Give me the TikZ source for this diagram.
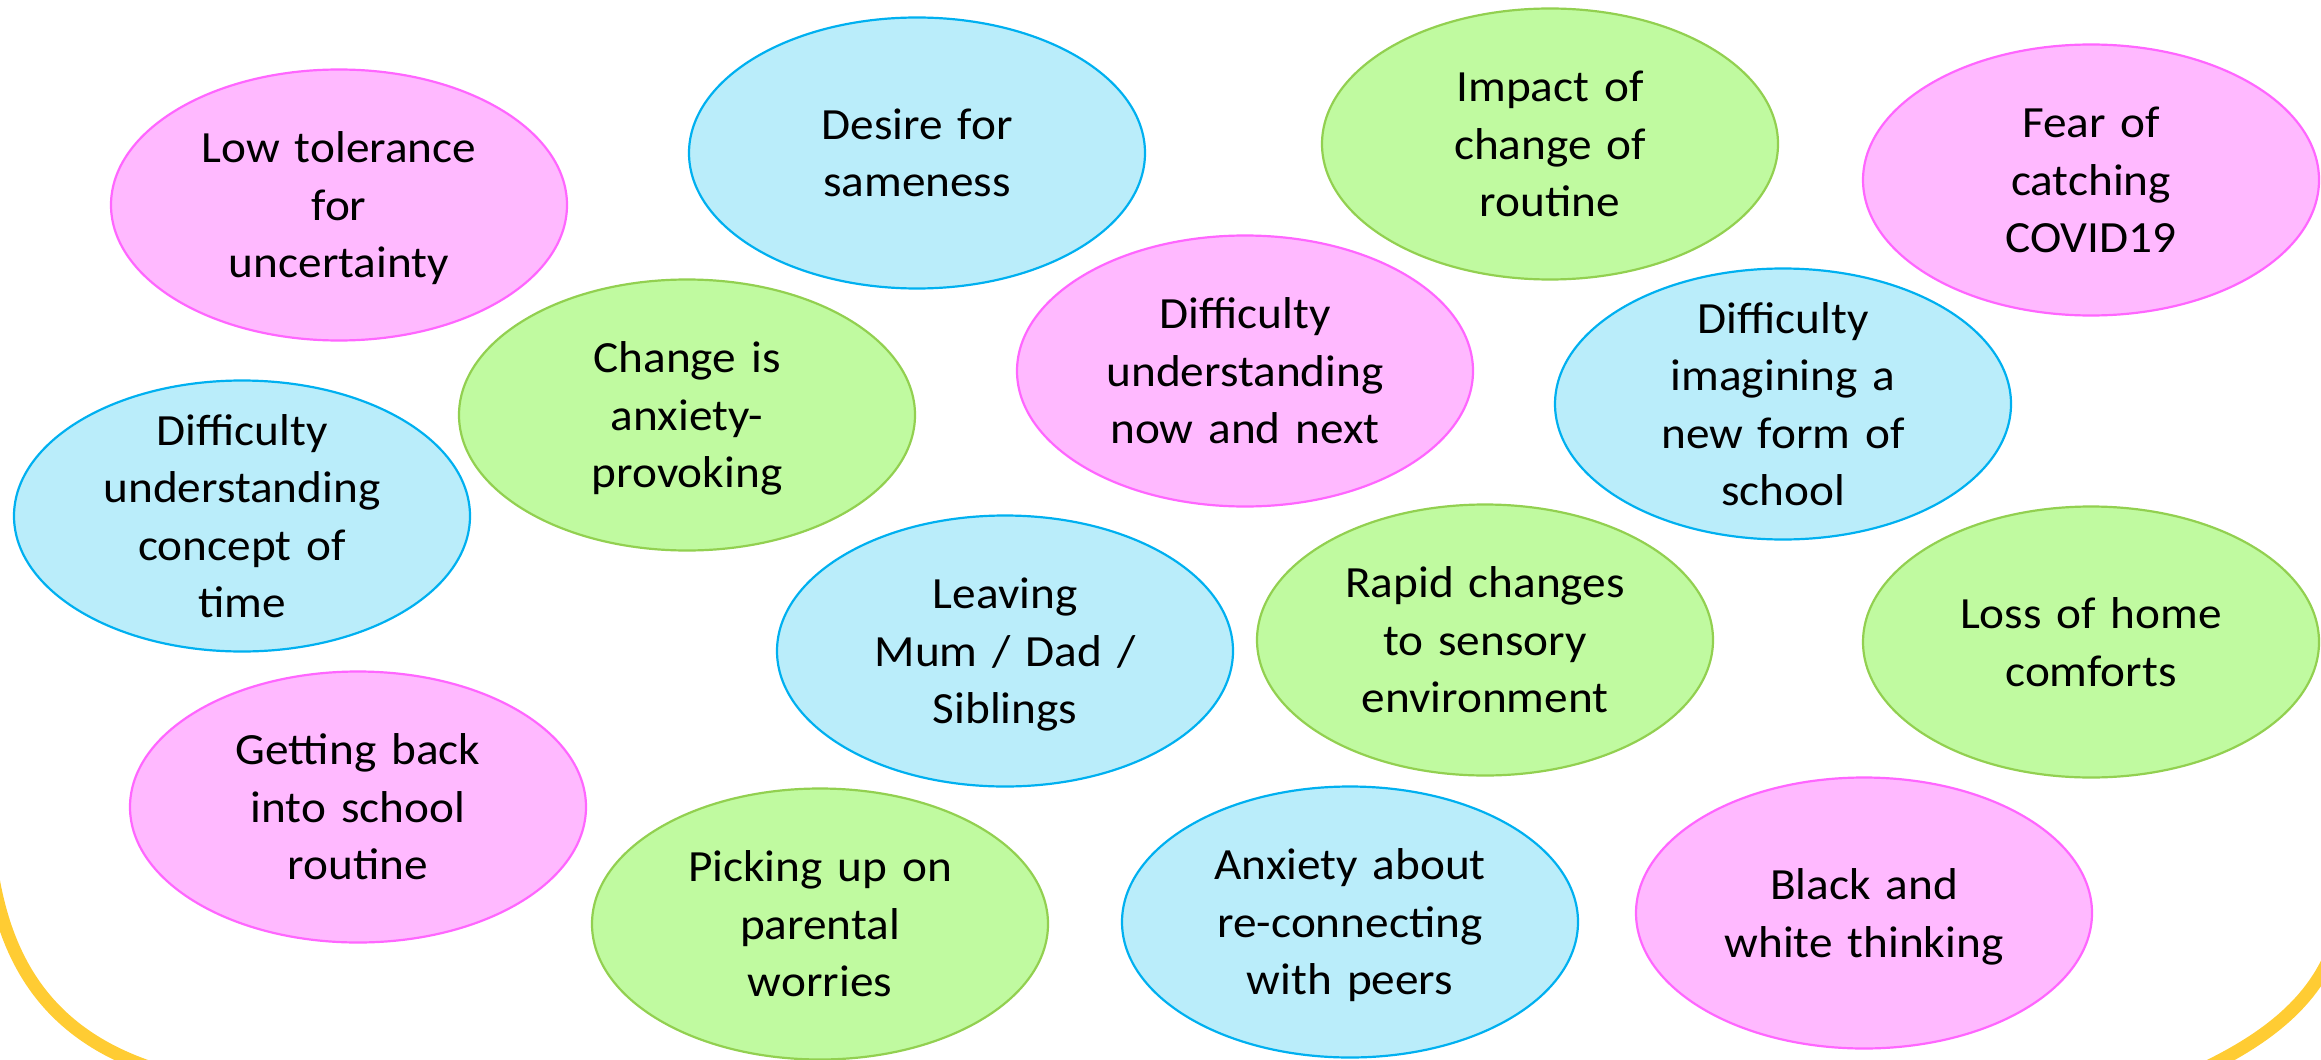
\documentclass[tikz,border=0pt]{standalone}
\usepackage{fontspec}
\setmainfont{Carlito}[FakeStretch=1.06]
\usetikzlibrary{shapes.geometric}

\definecolor{pinkfill}{HTML}{FFB9FF}
\definecolor{pinkline}{HTML}{FF66FF}
\definecolor{bluefill}{HTML}{BAEDFA}
\definecolor{blueline}{HTML}{00B0F0}
\definecolor{greenfill}{HTML}{C0FAA0}
\definecolor{greenline}{HTML}{92D050}
\definecolor{frameyellow}{HTML}{FFCC33}

% line strut: equal line boxes so the block centres like the slide text
\newcommand\lnstrut{\rule[-9pt]{0pt}{28.75pt}}

\tikzset{
  bubble/.style={ellipse, minimum width=228pt, minimum height=135.5pt,
    inner sep=0pt, outer sep=0pt, line width=1.1pt},
  pinkb/.style={bubble, fill=pinkfill, draw=pinkline},
  blueb/.style={bubble, fill=bluefill, draw=blueline},
  greenb/.style={bubble, fill=greenfill, draw=greenline},
  txt/.style={font=\fontsize{22.3pt}{28.75pt}\selectfont, align=center,
    text width=220pt, inner sep=0pt, yshift=-2.25pt,
    execute at begin node=\lnstrut, execute at end node=\lnstrut},
  frame/.style={draw=frameyellow, line width=6.5pt}
}

\begin{document}
\begin{tikzpicture}[x=0.5pt, y=-0.5pt]
\useasboundingbox (0,0) rectangle (2321,1059);

% yellow outline peeping in at the lower corners
\begin{scope}
  \clip (0,0) rectangle (2321,1059);
  \draw[frame] (-12,840) .. controls (-2,950) and (40,1040) .. (175,1075);
  \draw[frame] (2338,935) .. controls (2322,990) and (2280,1035) .. (2190,1075);
\end{scope}

% bubbles
\node[pinkb]  (low)     at (339,205)  {};
\node[blueb]  (same)    at (917,153)  {};
\node[greenb] (impact)  at (1550,144) {};
\node[pinkb]  (fear)    at (2091,180) {};
\node[greenb] (change)  at (687,415)  {};
\node[pinkb]  (nownext) at (1245,371) {};
\node[blueb]  (imagine) at (1783,404) {};
\node[blueb]  (time)    at (242,516)  {};
\node[blueb]  (leave)   at (1005,651) {};
\node[greenb] (rapid)   at (1485,640) {};
\node[greenb] (home)    at (2091,642) {};
\node[pinkb]  (back)    at (358,807)  {};
\node[greenb] (parent)  at (820,924)  {};
\node[blueb]  (peers)   at (1350,922) {};
\node[pinkb]  (bw)      at (1864,913) {};

% bubble texts
\node[txt] (low-t)     at (low)     {Low tolerance\\for\\uncertainty};
\node[txt] (same-t)    at (same)    {Desire for\\sameness};
\node[txt] (impact-t)  at (impact)  {Impact of\\change of\\routine};
\node[txt] (fear-t)    at (fear)    {Fear of\\catching\\COVID19};
\node[txt] (change-t)  at (change)  {Change is\\anxiety-\\provoking};
\node[txt] (nownext-t) at (nownext) {Difficulty\\understanding\\now and next};
\node[txt] (imagine-t) at (imagine) {Difficulty\\imagining a\\new form of\\school};
\node[txt] (time-t)    at (time)    {Difficulty\\understanding\\concept of\\time};
\node[txt] (leave-t)   at (leave)   {Leaving\\Mum / Dad /\\Siblings};
\node[txt] (rapid-t)   at (rapid)   {Rapid changes\\to sensory\\environment};
\node[txt] (home-t)    at (home)    {Loss of home\\comforts};
\node[txt] (back-t)    at (back)    {Getting back\\into school\\routine};
\node[txt] (parent-t)  at (parent)  {Picking up on\\parental\\worries};
\node[txt] (peers-t)   at (peers)   {Anxiety about\\re-connecting\\with peers};
\node[txt] (bw-t)      at (bw)      {Black and\\white thinking};
\end{tikzpicture}
\end{document}
